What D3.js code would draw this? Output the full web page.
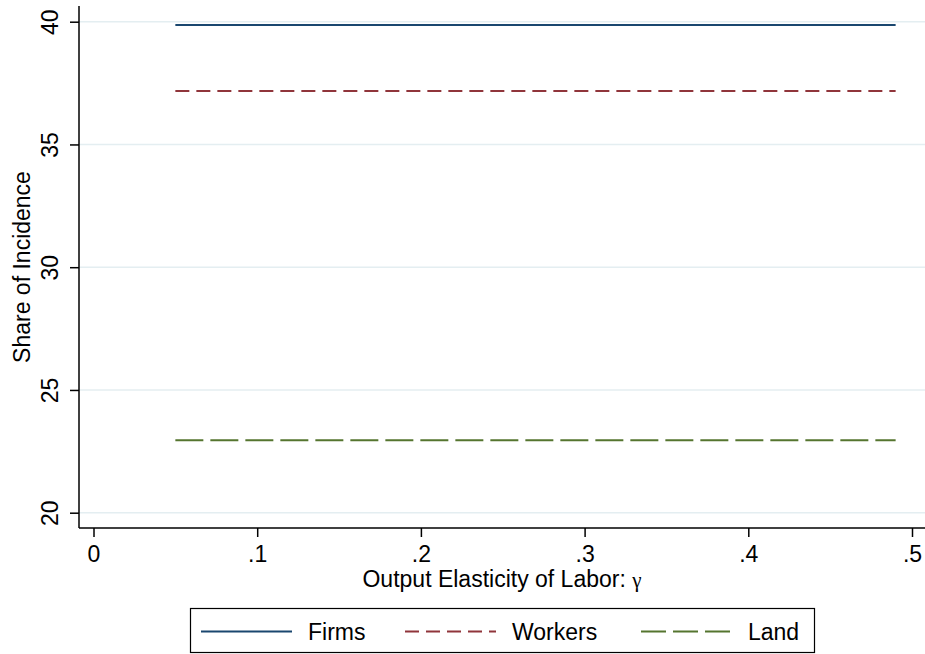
<!DOCTYPE html>
<html>
<head>
<meta charset="utf-8">
<script src="https://cdn.jsdelivr.net/npm/d3@7"></script>
<style>
  html, body { margin: 0; padding: 0; background: #fff; }
  svg { display: block; font-family: "Liberation Sans", Arial, Helvetica, sans-serif; }
</style>
</head>
<body>
<svg id="chart" width="925" height="654"></svg>
<script>
// ---- data ----
const gamma = [0.05,0.06,0.07,0.08,0.09,0.10,0.11,0.12,0.13,0.14,0.15,0.16,0.17,0.18,0.19,
               0.20,0.21,0.22,0.23,0.24,0.25,0.26,0.27,0.28,0.29,0.30,0.31,0.32,0.33,0.34,
               0.35,0.36,0.37,0.38,0.39,0.40,0.41,0.42,0.43,0.44,0.45,0.46,0.47,0.48,0.49];
const firms = gamma.map(() => 39.87);   // read as flat at 39.87
const workers = gamma.map(() => 37.18); // read as flat at 37.18
const land = gamma.map(() => 22.95);    // read as flat at 22.95
const seriesNames = ["Firms", "Workers", "Land"];
const xTicks = [0, 0.1, 0.2, 0.3, 0.4, 0.5];
const xTickLabels = ["0", ".1", ".2", ".3", ".4", ".5"];
const yTicks = [20, 25, 30, 35, 40];
const xTitleMain = "Output Elasticity of Labor: ";
const xTitleSymbol = "γ";
const yTitle = "Share of Incidence";

// ---- layout ----
const svg = d3.select("#chart");
const plot = { left: 79, right: 925, top: 6, bottom: 528 };
const x = d3.scaleLinear().domain([0, 0.5]).range([93.5, 912]);
const y = d3.scaleLinear().domain([20, 40]).range([512.7, 21.7]);
const fontSize = 23;

const styles = [
  { color: "#1a476f", dash: null },
  { color: "#90353b", dash: "14,7" },
  { color: "#55752f", dash: "28,7" }
];

// gridlines
svg.append("g").selectAll("line").data(yTicks).join("line")
  .attr("x1", plot.left).attr("x2", plot.right)
  .attr("y1", d => y(d)).attr("y2", d => y(d))
  .attr("stroke", "#e4eef1").attr("stroke-width", 1.5);

// series
const allSeries = [firms, workers, land];
const line = d3.line().x(d => x(d[0])).y(d => y(d[1]));
allSeries.forEach((vals, i) => {
  svg.append("path")
    .datum(gamma.map((g, j) => [g, vals[j]]))
    .attr("d", line)
    .attr("fill", "none")
    .attr("stroke", styles[i].color)
    .attr("stroke-width", 2)
    .attr("stroke-dasharray", styles[i].dash);
});

// y axis
const yAxis = d3.axisLeft(y).tickValues(yTicks).tickSize(9).tickFormat(d3.format("d"));
const gy = svg.append("g").attr("transform", `translate(${plot.left},0)`).call(yAxis);
gy.select(".domain").remove();
gy.append("line").attr("x1", 0).attr("x2", 0).attr("y1", plot.top).attr("y2", plot.bottom)
  .attr("stroke", "#000").attr("stroke-width", 1.5);
gy.selectAll(".tick line").attr("stroke", "#000").attr("stroke-width", 1.5);
gy.selectAll(".tick text")
  .attr("font-size", fontSize).attr("fill", "#000")
  .attr("x", null).attr("dy", null)
  .attr("text-anchor", "middle")
  .attr("transform", "translate(-21,0) rotate(-90)")
  .attr("y", 0);

// x axis
const xAxis = d3.axisBottom(x).tickValues(xTicks).tickSize(9)
  .tickFormat((d, i) => xTickLabels[i]);
const gx = svg.append("g").attr("transform", `translate(0,${plot.bottom})`).call(xAxis);
gx.select(".domain").remove();
gx.append("line").attr("x1", plot.left).attr("x2", plot.right).attr("y1", 0).attr("y2", 0)
  .attr("stroke", "#000").attr("stroke-width", 1.5);
gx.selectAll(".tick line").attr("stroke", "#000").attr("stroke-width", 1.5);
gx.selectAll(".tick text")
  .attr("font-size", fontSize).attr("fill", "#000")
  .attr("dy", null).attr("y", 34);

// titles
const xt = svg.append("text")
  .attr("x", (plot.left + plot.right) / 2).attr("y", 587)
  .attr("text-anchor", "middle").attr("font-size", fontSize).attr("fill", "#000");
xt.append("tspan").text(xTitleMain);
xt.append("tspan").attr("font-family", "'Liberation Serif', 'Times New Roman', serif")
  .attr("font-size", fontSize - 2).text(xTitleSymbol);
svg.append("text")
  .attr("transform", `translate(30,${(plot.top + plot.bottom) / 2}) rotate(-90)`)
  .attr("text-anchor", "middle").attr("font-size", fontSize).attr("fill", "#000")
  .text(yTitle);

// legend
const legend = svg.append("g");
legend.append("rect")
  .attr("x", 190.5).attr("y", 608.5).attr("width", 624).attr("height", 44)
  .attr("fill", "#fff").attr("stroke", "#000").attr("stroke-width", 1.2);
const legendX = [201, 405, 641];
const legendY = 631.5;
seriesNames.forEach((name, i) => {
  legend.append("line")
    .attr("x1", legendX[i]).attr("x2", legendX[i] + 91)
    .attr("y1", legendY).attr("y2", legendY)
    .attr("stroke", styles[i].color).attr("stroke-width", 2)
    .attr("stroke-dasharray", i === 2 ? "25,7" : styles[i].dash);
  legend.append("text")
    .attr("x", legendX[i] + 107).attr("y", legendY + 8.5)
    .attr("font-size", fontSize).attr("fill", "#000")
    .text(name);
});
</script>
</body>
</html>
